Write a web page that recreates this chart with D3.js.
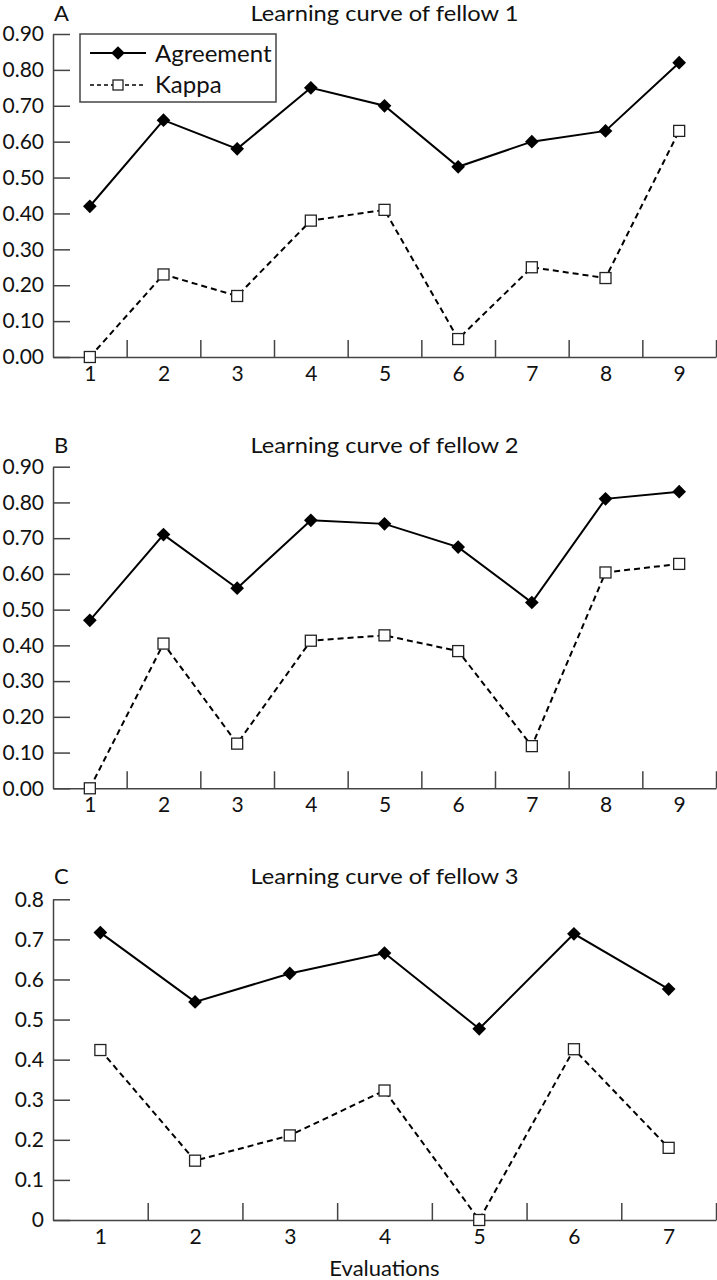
<!DOCTYPE html>
<html>
<head>
<meta charset="utf-8">
<script src="https://cdn.jsdelivr.net/npm/d3@7"></script>
<style>
  html, body { margin: 0; padding: 0; background: #fff; }
  svg { display: block; }
  text { font-family: Lato, "Open Sans", sans-serif; fill: #111; }
</style>
</head>
<body>
<svg id="chart" width="717" height="1280"></svg>
<script>
// ---- Data ----
const categoriesA = [1, 2, 3, 4, 5, 6, 7, 8, 9];
const agreementA = [0.42, 0.66, 0.58, 0.75, 0.70, 0.53, 0.60, 0.63, 0.82];
const kappaA     = [0.00, 0.23, 0.17, 0.38, 0.41, 0.05, 0.25, 0.22, 0.63];

const categoriesB = [1, 2, 3, 4, 5, 6, 7, 8, 9];
const agreementB = [0.47, 0.71, 0.56, 0.75, 0.74, 0.675, 0.52, 0.81, 0.83];
const kappaB     = [0.00, 0.405, 0.125, 0.413, 0.428, 0.384, 0.118, 0.604, 0.628];

const categoriesC = [1, 2, 3, 4, 5, 6, 7];
const agreementC = [0.717, 0.544, 0.615, 0.666, 0.477, 0.714, 0.576];
const kappaC     = [0.424, 0.148, 0.211, 0.323, 0.00, 0.426, 0.18];

const yTicksAB = [0, 0.1, 0.2, 0.3, 0.4, 0.5, 0.6, 0.7, 0.8, 0.9];
const yTicksC  = [0, 0.1, 0.2, 0.3, 0.4, 0.5, 0.6, 0.7, 0.8];

const titles = ["Learning curve of fellow 1", "Learning curve of fellow 2", "Learning curve of fellow 3"];
const panelLetters = ["A", "B", "C"];
const seriesNames = ["Agreement", "Kappa"];
const xAxisTitle = "Evaluations";

// ---- Drawing ----
const svg = d3.select("#chart");
const left = 53, right = 716;
const axisColor = "#444";
const FONT = "Lato, sans-serif";

function drawPanel(cfg) {
  const g = svg.append("g");
  const n = cfg.categories.length;
  const x = d3.scaleLinear().domain([0.5, n + 0.5]).range([left, right]);
  const y = d3.scaleLinear().domain([0, d3.max(cfg.yTicks)]).range([cfg.bottom, cfg.top]);

  // y axis (ticks point inward)
  const yAx = g.append("g").attr("transform", `translate(${left},0)`)
    .call(d3.axisLeft(y).tickValues(cfg.yTicks).tickFormat(cfg.fmt)
      .tickSize(-17).tickSizeOuter(0).tickPadding(9));
  yAx.selectAll("path, line").attr("stroke", axisColor).attr("stroke-width", 1.5);
  yAx.selectAll("text").attr("font-size", 21).attr("font-family", FONT).attr("fill", "#111");

  // x axis labels
  const xAx = g.append("g").attr("transform", `translate(0,${cfg.bottom})`)
    .call(d3.axisBottom(x).tickValues(cfg.categories).tickFormat(d3.format("d"))
      .tickSize(0).tickSizeOuter(0).tickPadding(9));
  xAx.select("path").attr("stroke", axisColor).attr("stroke-width", 1.5);
  xAx.selectAll("text").attr("font-size", 21).attr("font-family", FONT).attr("fill", "#111");

  // x boundary ticks (pointing up)
  const bounds = cfg.categories.map(c => c + 0.5);
  const xT = g.append("g").attr("transform", `translate(0,${cfg.bottom})`)
    .call(d3.axisBottom(x).tickValues(bounds).tickFormat("").tickSize(-17).tickSizeOuter(0));
  xT.select("path").remove();
  xT.selectAll("line").attr("stroke", axisColor).attr("stroke-width", 1.5);

  // titles
  g.append("text").attr("x", (left + right) / 2).attr("y", cfg.titleY)
    .attr("text-anchor", "middle").attr("font-size", 22)
    .attr("textLength", 268).attr("lengthAdjust", "spacingAndGlyphs").text(cfg.title);
  g.append("text").attr("x", left + 1).attr("y", cfg.titleY)
    .attr("font-size", 22).text(cfg.letter);

  const line = d3.line().x((d, i) => x(cfg.categories[i])).y(d => y(d));

  // Agreement
  g.append("path").datum(cfg.agreement).attr("d", line)
    .attr("fill", "none").attr("stroke", "#000").attr("stroke-width", 2);
  // Kappa
  g.append("path").datum(cfg.kappa).attr("d", line)
    .attr("fill", "none").attr("stroke", "#000").attr("stroke-width", 2)
    .attr("stroke-dasharray", "6,4");

  const diamond = d3.symbol().type(d3.symbolDiamond2).size(120);
  g.selectAll(".dia").data(cfg.agreement).join("path")
    .attr("d", diamond)
    .attr("transform", (d, i) => `translate(${x(cfg.categories[i])},${y(d)})`)
    .attr("fill", "#000");

  const sq = 11;
  g.selectAll(".sq").data(cfg.kappa).join("rect")
    .attr("x", (d, i) => x(cfg.categories[i]) - sq / 2)
    .attr("y", d => y(d) - sq / 2)
    .attr("width", sq).attr("height", sq)
    .attr("fill", "#fff").attr("stroke", "#222").attr("stroke-width", 1.3);
}

const fmtAB = d3.format(".2f");
const fmtC = d => d === 0 ? "0" : d3.format(".1f")(d);

drawPanel({ categories: categoriesA, agreement: agreementA, kappa: kappaA, yTicks: yTicksAB,
  fmt: fmtAB, top: 34, bottom: 357, titleY: 21, title: titles[0], letter: panelLetters[0] });
drawPanel({ categories: categoriesB, agreement: agreementB, kappa: kappaB, yTicks: yTicksAB,
  fmt: fmtAB, top: 466.7, bottom: 788.3, titleY: 453, title: titles[1], letter: panelLetters[1] });
drawPanel({ categories: categoriesC, agreement: agreementC, kappa: kappaC, yTicks: yTicksC,
  fmt: fmtC, top: 899.3, bottom: 1220, titleY: 884, title: titles[2], letter: panelLetters[2] });

// legend (panel A)
const lg = svg.append("g");
lg.append("rect").attr("x", 80).attr("y", 34).attr("width", 196).attr("height", 68)
  .attr("fill", "#fff").attr("stroke", "#444").attr("stroke-width", 1.5);
lg.append("line").attr("x1", 90).attr("x2", 146).attr("y1", 53).attr("y2", 53)
  .attr("stroke", "#000").attr("stroke-width", 2);
lg.append("path").attr("d", d3.symbol().type(d3.symbolDiamond2).size(120))
  .attr("transform", "translate(118,53)").attr("fill", "#000");
lg.append("text").attr("x", 155).attr("y", 62).attr("font-size", 24).text(seriesNames[0]);
lg.append("line").attr("x1", 90).attr("x2", 146).attr("y1", 85).attr("y2", 85)
  .attr("stroke", "#000").attr("stroke-width", 1.5).attr("stroke-dasharray", "4,3");
lg.append("rect").attr("x", 113).attr("y", 80).attr("width", 10).attr("height", 10)
  .attr("fill", "#fff").attr("stroke", "#222").attr("stroke-width", 1.3);
lg.append("text").attr("x", 155).attr("y", 93).attr("font-size", 24).text(seriesNames[1]);

svg.append("text").attr("x", (left + right) / 2).attr("y", 1276)
  .attr("text-anchor", "middle").attr("font-size", 22).text(xAxisTitle);
</script>
</body>
</html>
